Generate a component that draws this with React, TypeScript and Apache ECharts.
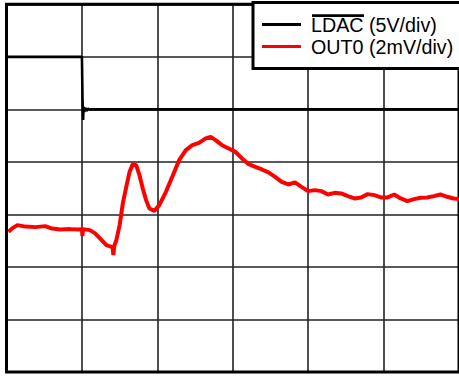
import React, { useEffect, useRef } from "react";
import * as echarts from "echarts";

// time in divisions (0..6), amplitude in divisions (0..7)
const ldacTime = [0, 0.5, 1.0, 1.008, 1.016, 1.022, 1.03, 1.045, 1.06, 1.08, 1.1, 1.3, 2, 3, 4, 5, 6];
const ldacValue = [6.0, 6.0, 6.0, 5.2, 4.8, 5.05, 4.95, 5.03, 4.97, 5.01, 5.0, 5.0, 5.0, 5.0, 5.0, 5.0, 5.0];

const outTime = [
  0.026, 0.079, 0.145, 0.25, 0.382, 0.513, 0.605, 0.711, 0.842, 0.947, 1.0, 1.007, 1.013,
  1.105, 1.171, 1.237, 1.325, 1.391, 1.408, 1.417, 1.428, 1.457, 1.5, 1.543, 1.588, 1.632,
  1.675, 1.72, 1.763, 1.807, 1.851, 1.895, 1.961, 2.026, 2.114, 2.201, 2.289, 2.378, 2.464,
  2.553, 2.641, 2.707, 2.772, 2.859, 2.947, 3.036, 3.122, 3.211, 3.299, 3.386, 3.474, 3.562,
  3.649, 3.737, 3.825, 3.912, 4.0, 4.088, 4.175, 4.263, 4.351, 4.438, 4.526, 4.614, 4.701,
  4.789, 4.878, 4.964, 5.053, 5.141, 5.228, 5.316, 5.404, 5.491, 5.579, 5.667, 5.754, 5.842,
  5.93, 6.0,
];
const outValue = [
  2.669, 2.739, 2.796, 2.768, 2.758, 2.777, 2.73, 2.714, 2.72, 2.711, 2.72, 2.587, 2.72,
  2.701, 2.644, 2.549, 2.416, 2.384, 2.359, 2.226, 2.397, 2.511, 2.796, 3.215, 3.525, 3.81,
  3.957, 3.938, 3.747, 3.494, 3.272, 3.114, 3.068, 3.177, 3.43, 3.728, 4.033, 4.223, 4.318,
  4.362, 4.446, 4.476, 4.413, 4.318, 4.255, 4.191, 4.065, 3.957, 3.905, 3.856, 3.799, 3.715,
  3.62, 3.57, 3.609, 3.525, 3.443, 3.462, 3.443, 3.38, 3.411, 3.399, 3.348, 3.304, 3.323,
  3.386, 3.367, 3.323, 3.323, 3.38, 3.304, 3.253, 3.291, 3.316, 3.323, 3.348, 3.38, 3.335,
  3.304, 3.291,
];

const seriesNames = ["LDAC (5V/div)", "OUT0 (2mV/div)"];
const seriesColors = ["#000000", "#ff0000"];

export default function App() {
  const ref = useRef<HTMLDivElement>(null);
  useEffect(() => {
    if (!ref.current) return;
    const chart = echarts.init(ref.current, undefined, { renderer: "svg" });
    const font = "'Liberation Sans', Arial, Helvetica, sans-serif";
    chart.setOption({
      animation: false,
      backgroundColor: "#ffffff",
      grid: {
        left: 6.5,
        top: 4.3,
        width: 456,
        height: 367.7,
        show: true,
        borderColor: "#000",
        borderWidth: 3,
        backgroundColor: "transparent",
        z: 3,
      },
      xAxis: {
        type: "value",
        min: 0,
        max: 6,
        interval: 1,
        axisLine: { show: false },
        axisTick: { show: false },
        axisLabel: { show: false },
        splitLine: { show: true, lineStyle: { color: "#222", width: 1.6 } },
      },
      yAxis: {
        type: "value",
        min: 0,
        max: 7,
        interval: 1,
        axisLine: { show: false },
        axisTick: { show: false },
        axisLabel: { show: false },
        splitLine: { show: true, lineStyle: { color: "#222", width: 1.6 } },
      },
      legend: {
        orient: "vertical",
        left: 253,
        top: 2.5,
        padding: [12, 30, 12, 9],
        itemGap: 2,
        itemWidth: 39,
        itemHeight: 3,
        icon: "rect",
        backgroundColor: "#fff",
        borderColor: "#000",
        borderWidth: 3,
        z: 10,
        textStyle: { fontFamily: font, fontSize: 19.7, color: "#000", lineHeight: 20, padding: [0, 0, 0, 5] },
        data: seriesNames,
      },
      graphic: [
        {
          type: "rect",
          z: 100,
          shape: { x: 312, y: 14.3, width: 52, height: 2.6 },
          style: { fill: "#000" },
        },
      ],
      series: [
        {
          name: seriesNames[0],
          type: "line",
          showSymbol: false,
          data: ldacTime.map((t, i) => [t, ldacValue[i]]),
          lineStyle: { color: seriesColors[0], width: 2.6 },
          itemStyle: { color: seriesColors[0] },
          z: 4,
        },
        {
          name: seriesNames[1],
          type: "line",
          showSymbol: false,
          data: outTime.map((t, i) => [t, outValue[i]]),
          lineStyle: { color: seriesColors[1], width: 4 },
          itemStyle: { color: seriesColors[1] },
          z: 5,
        },
      ],
    });
    return () => chart.dispose();
  }, []);
  return (
    <div
      ref={ref}
      style={{ position: "absolute", left: 0, top: 0, width: 459, height: 377, overflow: "hidden" }}
    />
  );
}
